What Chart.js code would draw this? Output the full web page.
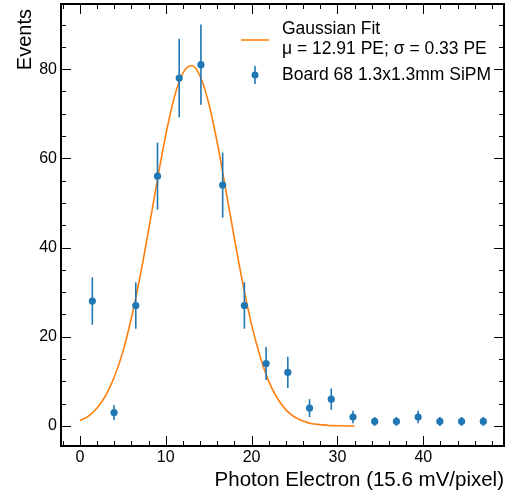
<!DOCTYPE html>
<html>
<head>
<meta charset="utf-8">
<script src="https://cdn.jsdelivr.net/npm/chart.js@4"></script>
<style>
  html, body { margin: 0; padding: 0; background: #fff; }
  #wrap { width: 508px; height: 493px; }
</style>
</head>
<body>
<div id="wrap"><canvas id="myChart" width="508" height="493"></canvas></div>
<script>
// measured data (bin centres, counts, errors)
const binCenters = [1.45, 3.98, 6.51, 9.04, 11.57, 14.1, 16.63, 19.16, 21.69, 24.22, 26.75, 29.28, 31.81, 34.34, 36.87, 39.4, 41.93, 44.46, 46.99];
const counts = [28, 3, 27, 56, 78, 81, 54, 27, 14, 12, 4, 6, 2, 1, 1, 2, 1, 1, 1];
const countErrors = [5.3, 1.7, 5.2, 7.5, 8.8, 9.0, 7.3, 5.2, 3.7, 3.5, 2.0, 2.4, 1.4, 1.0, 1.0, 1.4, 1.0, 1.0, 1.0];

// gaussian fit curve
const fitX = [0, 1, 2, 3, 4, 5, 6, 7, 8, 9, 10, 11, 12, 13, 14, 15, 16, 17, 18, 19, 20, 21, 22, 23, 24, 25, 26, 27, 28, 29, 30, 31, 32];
const fitY = [1.2, 2.2, 4.0, 6.8, 10.9, 16.6, 24.2, 33.4, 43.9, 54.9, 65.2, 73.7, 79.1, 80.8, 78.4, 72.4, 63.5, 52.9, 42.0, 31.7, 22.7, 15.5, 10.0, 6.2, 3.6, 2.0, 1.1, 0.5, 0.3, 0.1, 0.05, 0, 0];

const xTicks = [0, 10, 20, 30, 40];
const yTicks = [0, 20, 40, 60, 80];

const legendLines = ["Gaussian Fit", "μ = 12.91 PE; σ = 0.33 PE", "Board 68 1.3x1.3mm SiPM"];
const yTitle = "Events";

const BLUE = "#1f77b4";
const ORANGE = "#ff7f0e";
const FONT = "'Liberation Sans', Arial, Helvetica, sans-serif";

// vertical error bars under the markers
const errorBars = {
  id: "errorBars",
  beforeDatasetDraw(chart, args) {
    if (args.index !== 0) return;
    const ctx = chart.ctx;
    const xs = chart.scales.x;
    const ys = chart.scales.y;
    ctx.save();
    ctx.strokeStyle = BLUE;
    ctx.lineWidth = 1.6;
    binCenters.forEach((x, i) => {
      const px = xs.getPixelForValue(x);
      ctx.beginPath();
      ctx.moveTo(px, ys.getPixelForValue(counts[i] - countErrors[i]));
      ctx.lineTo(px, ys.getPixelForValue(counts[i] + countErrors[i]));
      ctx.stroke();
    });
    ctx.restore();
  },
};

// frame with inward ticks on all four sides, y title, legend
const frame = {
  id: "frame",
  afterDraw(chart) {
    const ctx = chart.ctx;
    const a = chart.chartArea;
    const xs = chart.scales.x;
    const ys = chart.scales.y;
    ctx.save();
    ctx.strokeStyle = "#000";

    ctx.lineWidth = 1;
    for (let v = -2; v <= 48; v += 2) {
      const px = Math.round(xs.getPixelForValue(v)) + 0.5;
      const len = v % 10 === 0 ? 10 : 5;
      ctx.beginPath();
      ctx.moveTo(px, a.bottom); ctx.lineTo(px, a.bottom - len);
      ctx.moveTo(px, a.top); ctx.lineTo(px, a.top + len);
      ctx.stroke();
    }
    for (let v = 0; v <= 90; v += 5) {
      const py = Math.round(ys.getPixelForValue(v)) + 0.5;
      const len = v % 20 === 0 ? 10 : 5;
      ctx.beginPath();
      ctx.moveTo(a.left, py); ctx.lineTo(a.left + len, py);
      ctx.moveTo(a.right, py); ctx.lineTo(a.right - len, py);
      ctx.stroke();
    }

    ctx.lineWidth = 2;
    ctx.strokeRect(a.left, a.top, a.right - a.left, a.bottom - a.top);

    // y axis title, top aligned like matplotlib
    ctx.fillStyle = "#000";
    ctx.font = "20px " + FONT;
    ctx.textAlign = "right";
    ctx.textBaseline = "middle";
    ctx.translate(25, 9);
    ctx.rotate(-Math.PI / 2);
    ctx.fillText(yTitle, 0, 0);
    ctx.setTransform(1, 0, 0, 1, 0, 0);

    // legend
    ctx.strokeStyle = ORANGE;
    ctx.lineWidth = 1.6;
    ctx.beginPath();
    ctx.moveTo(241, 40); ctx.lineTo(269, 40);
    ctx.stroke();

    ctx.strokeStyle = BLUE;
    ctx.beginPath();
    ctx.moveTo(255, 66); ctx.lineTo(255, 84);
    ctx.stroke();
    ctx.fillStyle = BLUE;
    ctx.beginPath();
    ctx.arc(255, 75, 3.5, 0, Math.PI * 2);
    ctx.fill();

    ctx.fillStyle = "#000";
    ctx.font = "17.5px " + FONT;
    ctx.textBaseline = "middle";
    ctx.textAlign = "left";
    ctx.fillText(legendLines[0], 282, 29);
    ctx.fillText(legendLines[1], 282, 49);
    ctx.fillText(legendLines[2], 282, 75);
    ctx.restore();
  },
};

const ctx = document.getElementById("myChart");
new Chart(ctx, {
  type: "scatter",
  data: {
    datasets: [
      {
        label: "Board 68 1.3x1.3mm SiPM",
        data: binCenters.map((x, i) => ({ x, y: counts[i] })),
        pointRadius: 3.6,
        pointBackgroundColor: BLUE,
        pointBorderWidth: 0,
        showLine: false,
      },
      {
        label: "Gaussian Fit",
        data: fitX.map((x, i) => ({ x, y: fitY[i] })),
        showLine: true,
        borderColor: ORANGE,
        borderWidth: 1.6,
        pointRadius: 0,
        cubicInterpolationMode: "monotone",
        fill: false,
      },
    ],
  },
  options: {
    responsive: false,
    animation: false,
    layout: { padding: { top: 4, right: 4, left: 0, bottom: 0 } },
    plugins: {
      legend: { display: false },
      tooltip: { enabled: false },
    },
    scales: {
      x: {
        type: "linear",
        min: -2.2,
        max: 49.4,
        afterFit: (scale) => {
          scale.height = 47;
          scale.paddingLeft = 0;
          scale.paddingRight = 0;
        },
        afterBuildTicks: (scale) => { scale.ticks = xTicks.map((v) => ({ value: v })); },
        grid: { display: false, drawTicks: false },
        border: { display: false },
        ticks: { padding: 2, color: "#000", font: { family: FONT, size: 16 } },
        title: {
          display: true,
          text: "Photon Electron (15.6 mV/pixel)",
          align: "end",
          color: "#000",
          font: { family: FONT, size: 20.5 },
          padding: { top: 4, bottom: 0 },
        },
      },
      y: {
        type: "linear",
        min: -4.5,
        max: 94.6,
        afterFit: (scale) => {
          scale.width = 61;
          scale.paddingTop = 0;
          scale.paddingBottom = 0;
        },
        afterBuildTicks: (scale) => { scale.ticks = yTicks.map((v) => ({ value: v })); },
        grid: { display: false, drawTicks: false },
        border: { display: false },
        ticks: { padding: 4, color: "#000", font: { family: FONT, size: 16 } },
      },
    },
  },
  plugins: [errorBars, frame],
});
</script>
</body>
</html>
